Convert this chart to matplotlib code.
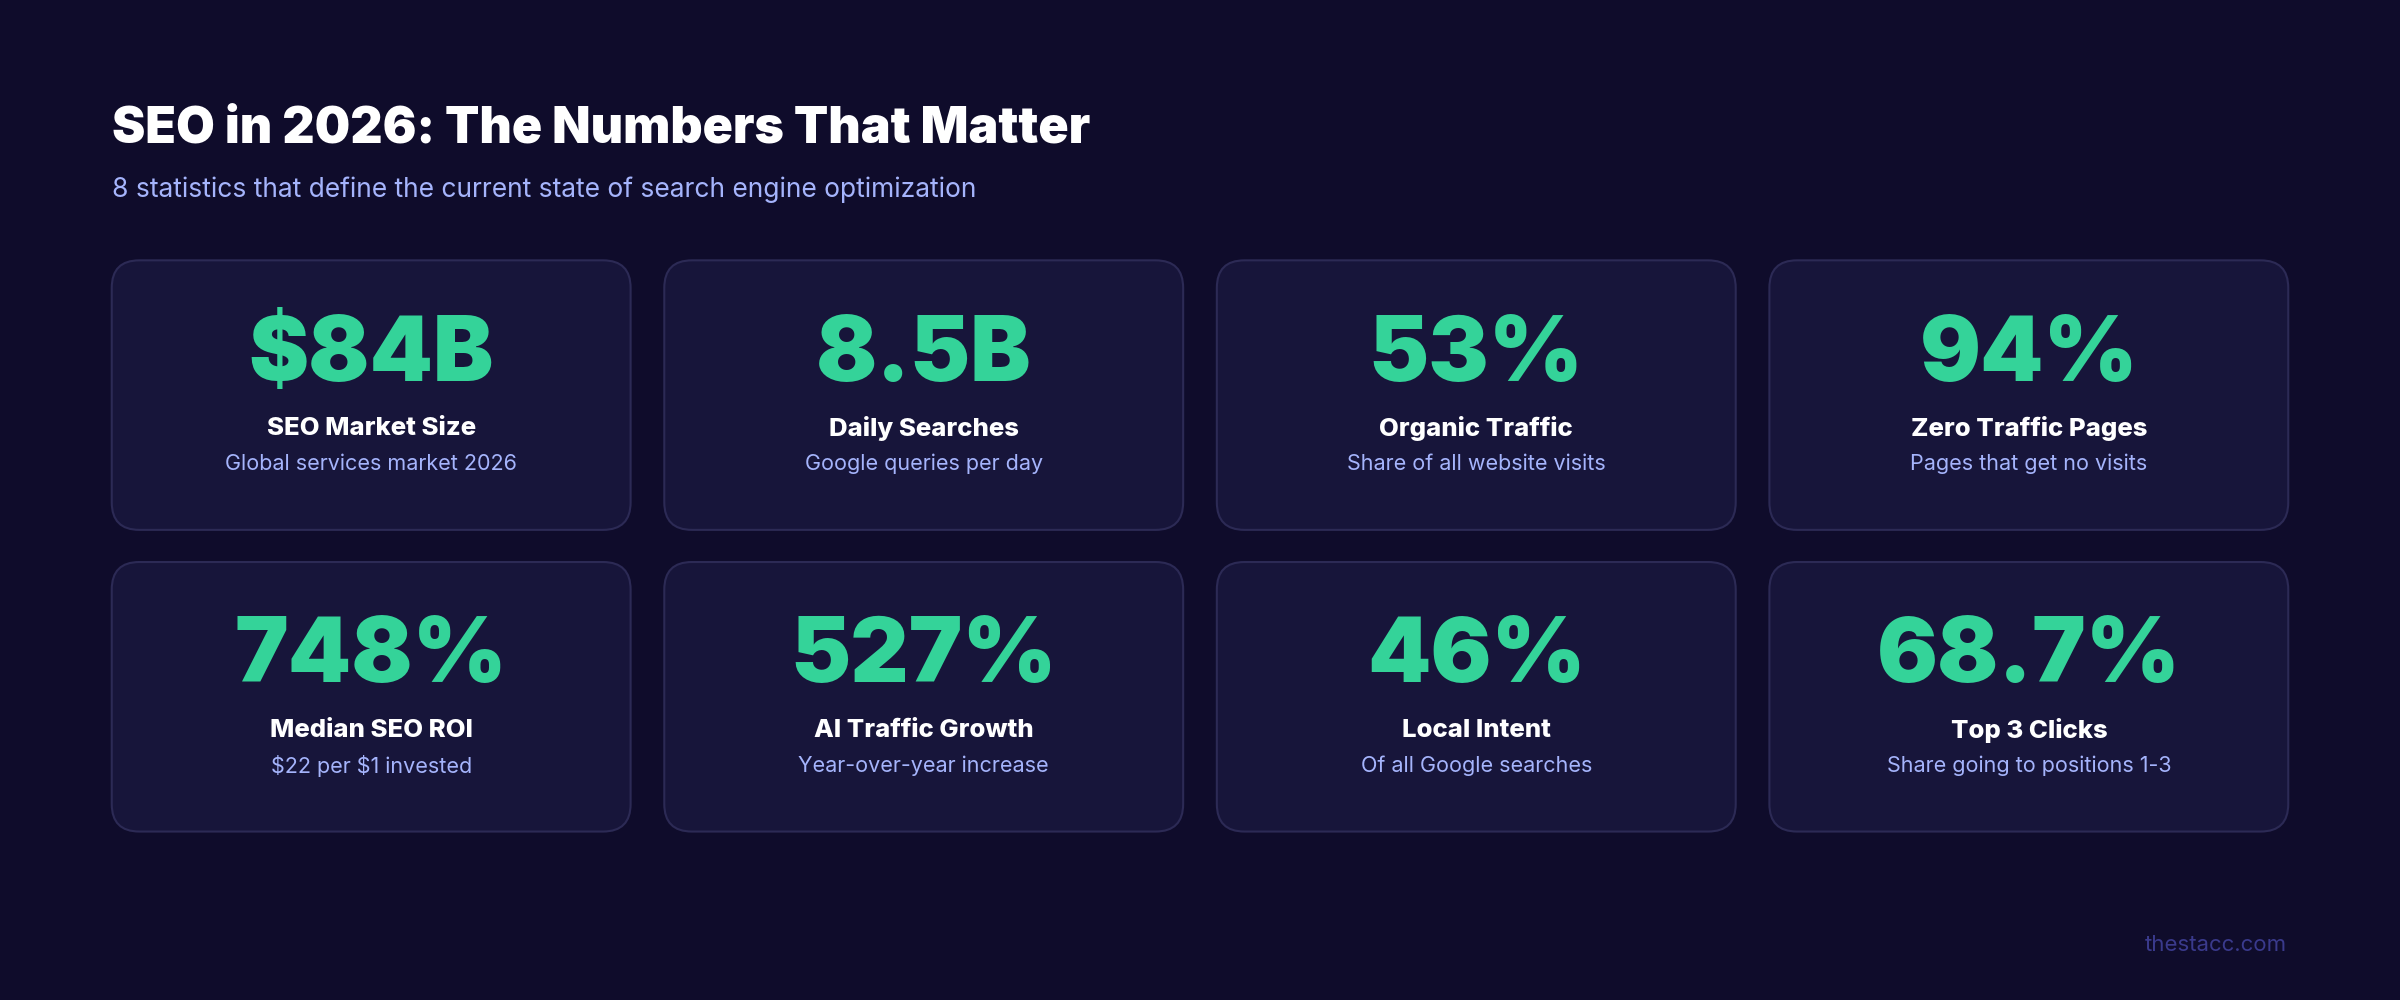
import matplotlib
matplotlib.use("Agg")
import matplotlib.pyplot as plt
from matplotlib.patches import FancyBboxPatch

plt.rcParams["font.family"] = ["Inter", "DejaVu Sans"]
plt.rcParams["text.parse_math"] = False

# ---- data ----
values = ["$84B", "8.5B", "53%", "94%", "748%", "527%", "46%", "68.7%"]
labels = ["SEO Market Size", "Daily Searches", "Organic Traffic", "Zero Traffic Pages",
          "Median SEO ROI", "AI Traffic Growth", "Local Intent", "Top 3 Clicks"]
notes = ["Global services market 2026", "Google queries per day",
         "Share of all website visits", "Pages that get no visits",
         "$22 per $1 invested", "Year-over-year increase",
         "Of all Google searches", "Share going to positions 1-3"]

BG = "#0f0c2b"
CARD = "#17153a"
EDGE = "#2c2a55"
GREEN = "#34d399"
SUB = "#a5b4fc"

fig = plt.figure(figsize=(24, 10), dpi=100, facecolor=BG)
ax = fig.add_axes([0, 0, 1, 1])
ax.set_xlim(0, 1568)
ax.set_ylim(653, 0)
ax.axis("off")
ax.set_facecolor(BG)

ax.text(73, 84, "SEO in 2026: The Numbers That Matter", color="white",
        fontsize=36, fontweight="black", va="center", ha="left")
ax.text(73, 124, "8 statistics that define the current state of search engine optimization",
        color=SUB, fontsize=19, va="center", ha="left")

col_x = [73, 434, 795, 1156]
row_y = [170, 367]
w, h = 339, 176
for i, (v, lab, note) in enumerate(zip(values, labels, notes)):
    x0 = col_x[i % 4]
    y0 = row_y[i // 4]
    ax.add_patch(FancyBboxPatch((x0, y0), w, h, boxstyle="round,pad=0,rounding_size=18",
                                facecolor=CARD, edgecolor=EDGE, linewidth=1.5))
    cx = x0 + w / 2
    ax.text(cx, y0 + 63, v, color=GREEN, fontsize=65, fontweight="black",
            ha="center", va="center")
    ax.text(cx, y0 + 110, lab, color="white", fontsize=18.5, fontweight="heavy",
            ha="center", va="center")
    ax.text(cx, y0 + 133, note, color=SUB, fontsize=15.5, ha="center", va="center")

ax.text(1494, 617, "thestacc.com", color="#3a3a8c", fontsize=16, ha="right", va="center")

fig.savefig("out.png", dpi=100, facecolor=BG)
